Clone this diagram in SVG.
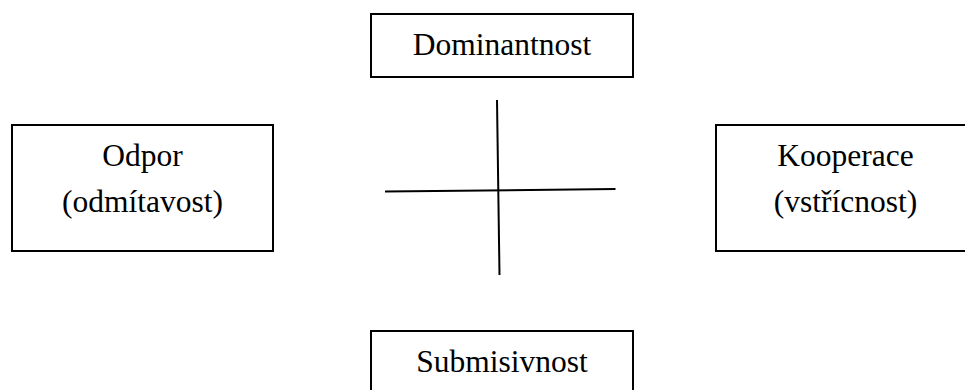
<svg xmlns="http://www.w3.org/2000/svg" width="965" height="390" viewBox="0 0 965 390">
  <style>
    .box { fill: #ffffff; stroke: #000000; stroke-width: 2; }
    .label { font-family: "Liberation Serif", "Times New Roman", serif; font-size: 31.5px; fill: #000000; text-anchor: middle; }
    .axis { stroke: #000000; stroke-width: 2; fill: none; }
  </style>
  <rect width="965" height="390" fill="#ffffff"/>

  <g id="dominantnost">
    <rect class="box" x="371" y="14" width="262" height="63"/>
    <text class="label" x="502" y="55">Dominantnost</text>
  </g>

  <g id="odpor">
    <rect class="box" x="12" y="125" width="261" height="126"/>
    <text class="label" x="142.5" y="166">Odpor</text>
    <text class="label" x="142.5" y="212">(odmítavost)</text>
  </g>

  <g id="kooperace">
    <rect class="box" x="716" y="125" width="262" height="126"/>
    <text class="label" x="845.5" y="166">Kooperace</text>
    <text class="label" x="845.5" y="212">(vstřícnost)</text>
  </g>

  <g id="submisivnost">
    <rect class="box" x="371" y="331" width="262" height="70"/>
    <text class="label" x="502" y="372">Submisivnost</text>
  </g>

  <g id="connectors">
    <line class="axis" x1="497" y1="100" x2="499.5" y2="275"/>
    <line class="axis" x1="385" y1="191.5" x2="615.5" y2="189"/>
  </g>
</svg>
